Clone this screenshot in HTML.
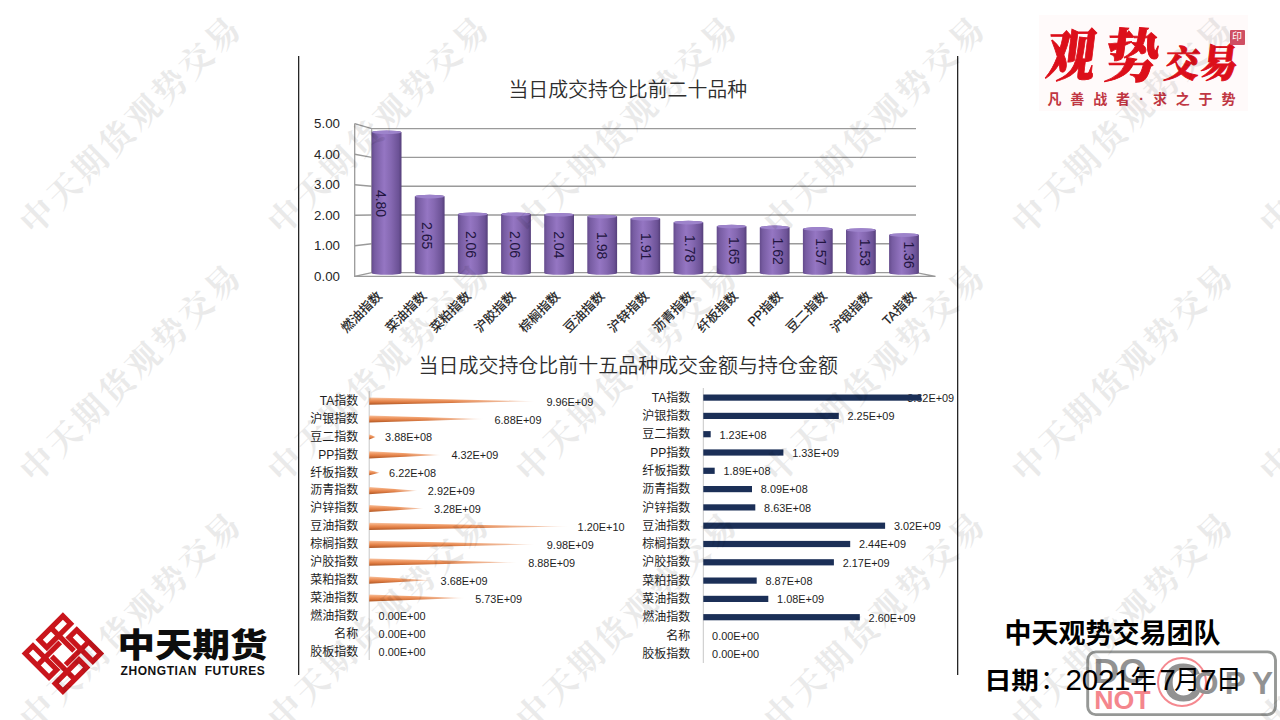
<!DOCTYPE html>
<html lang="zh"><head><meta charset="utf-8"><title>中天期货 观势交易</title>
<style>
html,body{margin:0;padding:0;background:#fff;}
body{width:1280px;height:720px;overflow:hidden;position:relative;font-family:"Liberation Sans","Noto Sans CJK SC",sans-serif;}
#stage{position:absolute;left:0;top:0;width:1280px;height:720px;overflow:hidden;background:#fff;}
.abs{position:absolute;white-space:nowrap;}
svg{position:absolute;left:0;top:0;}
svg text{font-family:"Liberation Sans","Noto Sans CJK SC",sans-serif;}
.wm{position:absolute;width:320px;height:44px;line-height:44px;margin-left:-160px;margin-top:-22px;text-align:center;font-family:"Liberation Serif","Noto Serif CJK SC",serif;font-size:33.5px;letter-spacing:3.5px;color:#000;opacity:.078;transform:rotate(-44.4deg);white-space:nowrap;font-weight:700;}
</style></head><body><div id="stage">

<svg width="1280" height="720" viewBox="0 0 1280 720">
<defs>
<linearGradient id="cyl" x1="0" y1="0" x2="1" y2="0">
<stop offset="0" stop-color="#644b8c"/><stop offset="0.1" stop-color="#775ca2"/><stop offset="0.42" stop-color="#9576c3"/><stop offset="0.65" stop-color="#8568b1"/><stop offset="0.9" stop-color="#6c5296"/><stop offset="1" stop-color="#553f7a"/>
</linearGradient>
<linearGradient id="coneV" x1="0" y1="0" x2="0" y2="1">
<stop offset="0" stop-color="#f7c3a2"/><stop offset="0.3" stop-color="#f19d68"/><stop offset="0.62" stop-color="#e07c42"/><stop offset="1" stop-color="#ad5624"/>
</linearGradient>
<linearGradient id="fade" x1="0" y1="0" x2="1" y2="0">
<stop offset="0" stop-color="#fff" stop-opacity="0"/><stop offset="0.5" stop-color="#fff" stop-opacity="0.04"/><stop offset="0.82" stop-color="#fff" stop-opacity="0.45"/><stop offset="1" stop-color="#fff" stop-opacity="0.92"/>
</linearGradient>
</defs>
<rect x="298" y="56" width="1.3" height="619" fill="#262626"/>
<rect x="957" y="56" width="1.3" height="619" fill="#262626"/>
<path d="M354.7 276.4 L371.7 272.6 L916 272.6" fill="none" stroke="#9a9a9a" stroke-width="1.4"/>
<path d="M354.7 245.8 L371.7 243.8 L916 243.8" fill="none" stroke="#9a9a9a" stroke-width="1.4"/>
<path d="M354.7 215.3 L371.7 215.0 L916 215.0" fill="none" stroke="#9a9a9a" stroke-width="1.4"/>
<path d="M354.7 184.7 L371.7 186.2 L916 186.2" fill="none" stroke="#9a9a9a" stroke-width="1.4"/>
<path d="M354.7 154.2 L371.7 157.4 L916 157.4" fill="none" stroke="#9a9a9a" stroke-width="1.4"/>
<path d="M354.7 123.6 L371.7 128.6 L916 128.6" fill="none" stroke="#9a9a9a" stroke-width="1.4"/>
<path d="M354.7 123.6 V276.4 H935.5 L916 272.6" fill="none" stroke="#9a9a9a" stroke-width="1.3"/>
<path d="M371.7 128.6 V272.6" fill="none" stroke="#9a9a9a" stroke-width="1"/>
<text x="340" y="280.8" font-size="13.3" text-anchor="end" fill="#262626">0.00</text>
<text x="340" y="250.2" font-size="13.3" text-anchor="end" fill="#262626">1.00</text>
<text x="340" y="219.7" font-size="13.3" text-anchor="end" fill="#262626">2.00</text>
<text x="340" y="189.1" font-size="13.3" text-anchor="end" fill="#262626">3.00</text>
<text x="340" y="158.6" font-size="13.3" text-anchor="end" fill="#262626">4.00</text>
<text x="340" y="128.0" font-size="13.3" text-anchor="end" fill="#262626">5.00</text>
<path d="M371.7 132.3 A14.9 1.8 0 0 1 401.5 132.3 V273.0 A14.9 1.8 0 0 1 371.7 273.0 Z" fill="url(#cyl)"/>
<ellipse cx="386.6" cy="132.3" rx="14.6" ry="1.8" fill="#9d83cb"/>
<text transform="translate(375.8 203.5) rotate(90)" font-size="14" text-anchor="middle" fill="#221540">4.80</text>
<text transform="translate(375.9 290.2) rotate(-45)" font-size="12.8" text-anchor="end" fill="#1a1a1a" dy="9.6" stroke="#1a1a1a" stroke-width="0.2">燃油指数</text>
<path d="M414.8 196.6 A14.9 1.8 0 0 1 444.6 196.6 V273.0 A14.9 1.8 0 0 1 414.8 273.0 Z" fill="url(#cyl)"/>
<ellipse cx="429.7" cy="196.6" rx="14.6" ry="1.8" fill="#9d83cb"/>
<text transform="translate(422.0 235.7) rotate(90)" font-size="14" text-anchor="middle" fill="#221540">2.65</text>
<text transform="translate(420.4 290.2) rotate(-45)" font-size="12.8" text-anchor="end" fill="#1a1a1a" dy="9.6" stroke="#1a1a1a" stroke-width="0.2">菜油指数</text>
<path d="M457.9 214.2 A14.9 1.8 0 0 1 487.7 214.2 V273.0 A14.9 1.8 0 0 1 457.9 273.0 Z" fill="url(#cyl)"/>
<ellipse cx="472.8" cy="214.2" rx="14.6" ry="1.8" fill="#9d83cb"/>
<text transform="translate(465.8 244.5) rotate(90)" font-size="14" text-anchor="middle" fill="#221540">2.06</text>
<text transform="translate(464.9 290.2) rotate(-45)" font-size="12.8" text-anchor="end" fill="#1a1a1a" dy="9.6" stroke="#1a1a1a" stroke-width="0.2">菜粕指数</text>
<path d="M501.1 214.2 A14.9 1.8 0 0 1 530.9 214.2 V273.0 A14.9 1.8 0 0 1 501.1 273.0 Z" fill="url(#cyl)"/>
<ellipse cx="516.0" cy="214.2" rx="14.6" ry="1.8" fill="#9d83cb"/>
<text transform="translate(509.7 244.5) rotate(90)" font-size="14" text-anchor="middle" fill="#221540">2.06</text>
<text transform="translate(509.4 290.2) rotate(-45)" font-size="12.8" text-anchor="end" fill="#1a1a1a" dy="9.6" stroke="#1a1a1a" stroke-width="0.2">沪胶指数</text>
<path d="M544.2 214.8 A14.9 1.8 0 0 1 574.0 214.8 V273.0 A14.9 1.8 0 0 1 544.2 273.0 Z" fill="url(#cyl)"/>
<ellipse cx="559.1" cy="214.8" rx="14.6" ry="1.8" fill="#9d83cb"/>
<text transform="translate(553.5 244.8) rotate(90)" font-size="14" text-anchor="middle" fill="#221540">2.04</text>
<text transform="translate(553.9 290.2) rotate(-45)" font-size="12.8" text-anchor="end" fill="#1a1a1a" dy="9.6" stroke="#1a1a1a" stroke-width="0.2">棕榈指数</text>
<path d="M587.3 216.6 A14.9 1.8 0 0 1 617.1 216.6 V273.0 A14.9 1.8 0 0 1 587.3 273.0 Z" fill="url(#cyl)"/>
<ellipse cx="602.2" cy="216.6" rx="14.6" ry="1.8" fill="#9d83cb"/>
<text transform="translate(597.3 245.7) rotate(90)" font-size="14" text-anchor="middle" fill="#221540">1.98</text>
<text transform="translate(598.4 290.2) rotate(-45)" font-size="12.8" text-anchor="end" fill="#1a1a1a" dy="9.6" stroke="#1a1a1a" stroke-width="0.2">豆油指数</text>
<path d="M630.4 218.7 A14.9 1.8 0 0 1 660.2 218.7 V273.0 A14.9 1.8 0 0 1 630.4 273.0 Z" fill="url(#cyl)"/>
<ellipse cx="645.3" cy="218.7" rx="14.6" ry="1.8" fill="#9d83cb"/>
<text transform="translate(641.1 246.7) rotate(90)" font-size="14" text-anchor="middle" fill="#221540">1.91</text>
<text transform="translate(642.9 290.2) rotate(-45)" font-size="12.8" text-anchor="end" fill="#1a1a1a" dy="9.6" stroke="#1a1a1a" stroke-width="0.2">沪锌指数</text>
<path d="M673.5 222.6 A14.9 1.8 0 0 1 703.3 222.6 V273.0 A14.9 1.8 0 0 1 673.5 273.0 Z" fill="url(#cyl)"/>
<ellipse cx="688.4" cy="222.6" rx="14.6" ry="1.8" fill="#9d83cb"/>
<text transform="translate(684.9 248.7) rotate(90)" font-size="14" text-anchor="middle" fill="#221540">1.78</text>
<text transform="translate(687.4 290.2) rotate(-45)" font-size="12.8" text-anchor="end" fill="#1a1a1a" dy="9.6" stroke="#1a1a1a" stroke-width="0.2">沥青指数</text>
<path d="M716.7 226.5 A14.9 1.8 0 0 1 746.5 226.5 V273.0 A14.9 1.8 0 0 1 716.7 273.0 Z" fill="url(#cyl)"/>
<ellipse cx="731.6" cy="226.5" rx="14.6" ry="1.8" fill="#9d83cb"/>
<text transform="translate(728.8 250.6) rotate(90)" font-size="14" text-anchor="middle" fill="#221540">1.65</text>
<text transform="translate(731.9 290.2) rotate(-45)" font-size="12.8" text-anchor="end" fill="#1a1a1a" dy="9.6" stroke="#1a1a1a" stroke-width="0.2">纤板指数</text>
<path d="M759.8 227.4 A14.9 1.8 0 0 1 789.6 227.4 V273.0 A14.9 1.8 0 0 1 759.8 273.0 Z" fill="url(#cyl)"/>
<ellipse cx="774.7" cy="227.4" rx="14.6" ry="1.8" fill="#9d83cb"/>
<text transform="translate(772.6 251.1) rotate(90)" font-size="14" text-anchor="middle" fill="#221540">1.62</text>
<text transform="translate(776.4 290.2) rotate(-45)" font-size="12.8" text-anchor="end" fill="#1a1a1a" dy="9.6" stroke="#1a1a1a" stroke-width="0.2">PP指数</text>
<path d="M802.9 228.9 A14.9 1.8 0 0 1 832.7 228.9 V273.0 A14.9 1.8 0 0 1 802.9 273.0 Z" fill="url(#cyl)"/>
<ellipse cx="817.8" cy="228.9" rx="14.6" ry="1.8" fill="#9d83cb"/>
<text transform="translate(816.4 251.8) rotate(90)" font-size="14" text-anchor="middle" fill="#221540">1.57</text>
<text transform="translate(820.9 290.2) rotate(-45)" font-size="12.8" text-anchor="end" fill="#1a1a1a" dy="9.6" stroke="#1a1a1a" stroke-width="0.2">豆二指数</text>
<path d="M846.0 230.1 A14.9 1.8 0 0 1 875.8 230.1 V273.0 A14.9 1.8 0 0 1 846.0 273.0 Z" fill="url(#cyl)"/>
<ellipse cx="860.9" cy="230.1" rx="14.6" ry="1.8" fill="#9d83cb"/>
<text transform="translate(860.2 252.4) rotate(90)" font-size="14" text-anchor="middle" fill="#221540">1.53</text>
<text transform="translate(865.4 290.2) rotate(-45)" font-size="12.8" text-anchor="end" fill="#1a1a1a" dy="9.6" stroke="#1a1a1a" stroke-width="0.2">沪银指数</text>
<path d="M889.1 235.1 A14.9 1.8 0 0 1 918.9 235.1 V273.0 A14.9 1.8 0 0 1 889.1 273.0 Z" fill="url(#cyl)"/>
<ellipse cx="904.0" cy="235.1" rx="14.6" ry="1.8" fill="#9d83cb"/>
<text transform="translate(904.0 255.0) rotate(90)" font-size="14" text-anchor="middle" fill="#221540">1.36</text>
<text transform="translate(909.9 290.2) rotate(-45)" font-size="12.8" text-anchor="end" fill="#1a1a1a" dy="9.6" stroke="#1a1a1a" stroke-width="0.2">TA指数</text>
<text x="627.8" y="96.8" font-size="19.9" text-anchor="middle" fill="#2e2e2e" font-weight="350">当日成交持仓比前二十品种</text>
<text x="628.2" y="372.6" font-size="19.98" text-anchor="middle" fill="#2e2e2e" font-weight="350">当日成交持仓比前十五品种成交金额与持仓金额</text>
<rect x="368.7" y="391" width="1" height="269" fill="#c8c8c8"/>
<text x="358.3" y="404.9" font-size="12" text-anchor="end" fill="#1e1e1e">TA指数</text>
<path d="M369.2 397.5 L534.5 401.2 L369.2 404.7 Z" fill="url(#coneV)"/>
<rect x="369.2" y="396.6" width="166.3" height="8.2" fill="url(#fade)"/>
<text x="546.4" y="405.6" font-size="10.9" fill="#1e1e1e">9.96E+09</text>
<text x="358.3" y="422.8" font-size="12" text-anchor="end" fill="#1e1e1e">沪银指数</text>
<path d="M369.2 415.4 L483.4 419.1 L369.2 422.6 Z" fill="url(#coneV)"/>
<rect x="369.2" y="414.5" width="115.2" height="8.2" fill="url(#fade)"/>
<text x="494.5" y="423.5" font-size="10.9" fill="#1e1e1e">6.88E+09</text>
<text x="358.3" y="440.7" font-size="12" text-anchor="end" fill="#1e1e1e">豆二指数</text>
<path d="M369.2 434.3 L375.6 437.0 L369.2 439.5 Z" fill="url(#coneV)"/>
<rect x="369.2" y="433.4" width="7.4" height="6.2" fill="url(#fade)"/>
<text x="385.1" y="441.4" font-size="10.9" fill="#1e1e1e">3.88E+08</text>
<text x="358.3" y="458.6" font-size="12" text-anchor="end" fill="#1e1e1e">PP指数</text>
<path d="M369.2 451.2 L440.9 454.9 L369.2 458.4 Z" fill="url(#coneV)"/>
<rect x="369.2" y="450.3" width="72.7" height="8.2" fill="url(#fade)"/>
<text x="451.4" y="459.3" font-size="10.9" fill="#1e1e1e">4.32E+09</text>
<text x="358.3" y="476.5" font-size="12" text-anchor="end" fill="#1e1e1e">纤板指数</text>
<path d="M369.2 470.1 L379.5 472.8 L369.2 475.3 Z" fill="url(#coneV)"/>
<rect x="369.2" y="469.2" width="11.3" height="6.2" fill="url(#fade)"/>
<text x="389.1" y="477.2" font-size="10.9" fill="#1e1e1e">6.22E+08</text>
<text x="358.3" y="494.4" font-size="12" text-anchor="end" fill="#1e1e1e">沥青指数</text>
<path d="M369.2 487.0 L417.7 490.7 L369.2 494.2 Z" fill="url(#coneV)"/>
<rect x="369.2" y="486.1" width="49.5" height="8.2" fill="url(#fade)"/>
<text x="427.8" y="495.1" font-size="10.9" fill="#1e1e1e">2.92E+09</text>
<text x="358.3" y="512.3" font-size="12" text-anchor="end" fill="#1e1e1e">沪锌指数</text>
<path d="M369.2 504.9 L423.6 508.6 L369.2 512.1 Z" fill="url(#coneV)"/>
<rect x="369.2" y="504.0" width="55.4" height="8.2" fill="url(#fade)"/>
<text x="433.9" y="513.0" font-size="10.9" fill="#1e1e1e">3.28E+09</text>
<text x="358.3" y="530.2" font-size="12" text-anchor="end" fill="#1e1e1e">豆油指数</text>
<path d="M369.2 522.8 L568.4 526.5 L369.2 530.0 Z" fill="url(#coneV)"/>
<rect x="369.2" y="521.9" width="200.2" height="8.2" fill="url(#fade)"/>
<text x="577.6" y="530.9" font-size="10.9" fill="#1e1e1e">1.20E+10</text>
<text x="358.3" y="548.1" font-size="12" text-anchor="end" fill="#1e1e1e">棕榈指数</text>
<path d="M369.2 540.7 L534.9 544.4 L369.2 547.9 Z" fill="url(#coneV)"/>
<rect x="369.2" y="539.8" width="166.7" height="8.2" fill="url(#fade)"/>
<text x="546.8" y="548.8" font-size="10.9" fill="#1e1e1e">9.98E+09</text>
<text x="358.3" y="566.0" font-size="12" text-anchor="end" fill="#1e1e1e">沪胶指数</text>
<path d="M369.2 558.6 L516.6 562.3 L369.2 565.8 Z" fill="url(#coneV)"/>
<rect x="369.2" y="557.7" width="148.4" height="8.2" fill="url(#fade)"/>
<text x="528.2" y="566.7" font-size="10.9" fill="#1e1e1e">8.88E+09</text>
<text x="358.3" y="583.9" font-size="12" text-anchor="end" fill="#1e1e1e">菜粕指数</text>
<path d="M369.2 576.5 L430.3 580.2 L369.2 583.7 Z" fill="url(#coneV)"/>
<rect x="369.2" y="575.6" width="62.1" height="8.2" fill="url(#fade)"/>
<text x="440.6" y="584.6" font-size="10.9" fill="#1e1e1e">3.68E+09</text>
<text x="358.3" y="601.8" font-size="12" text-anchor="end" fill="#1e1e1e">菜油指数</text>
<path d="M369.2 594.4 L464.3 598.1 L369.2 601.6 Z" fill="url(#coneV)"/>
<rect x="369.2" y="593.5" width="96.1" height="8.2" fill="url(#fade)"/>
<text x="475.2" y="602.5" font-size="10.9" fill="#1e1e1e">5.73E+09</text>
<text x="358.3" y="619.7" font-size="12" text-anchor="end" fill="#1e1e1e">燃油指数</text>
<text x="378.6" y="620.4" font-size="10.9" fill="#1e1e1e">0.00E+00</text>
<text x="358.3" y="637.6" font-size="12" text-anchor="end" fill="#1e1e1e">名称</text>
<text x="378.6" y="638.3" font-size="10.9" fill="#1e1e1e">0.00E+00</text>
<text x="358.3" y="655.5" font-size="12" text-anchor="end" fill="#1e1e1e">胶板指数</text>
<text x="378.6" y="656.2" font-size="10.9" fill="#1e1e1e">0.00E+00</text>
<rect x="702.8" y="388" width="1" height="275" fill="#c8c8c8"/>
<text x="690.3" y="401.7" font-size="12" text-anchor="end" fill="#1e1e1e">TA指数</text>
<text x="907.2" y="401.9" font-size="10.9" fill="#1e1e1e">3.62E+09</text>
<rect x="703.3" y="394.5" width="217.9" height="6.2" fill="#1b2f57"/>
<text x="690.3" y="420.0" font-size="12" text-anchor="end" fill="#1e1e1e">沪银指数</text>
<text x="847.5" y="420.2" font-size="10.9" fill="#1e1e1e">2.25E+09</text>
<rect x="703.3" y="412.8" width="135.5" height="6.2" fill="#1b2f57"/>
<text x="690.3" y="438.3" font-size="12" text-anchor="end" fill="#1e1e1e">豆二指数</text>
<text x="719.5" y="438.5" font-size="10.9" fill="#1e1e1e">1.23E+08</text>
<rect x="703.3" y="431.1" width="7.4" height="6.2" fill="#1b2f57"/>
<text x="690.3" y="456.6" font-size="12" text-anchor="end" fill="#1e1e1e">PP指数</text>
<text x="792.2" y="456.8" font-size="10.9" fill="#1e1e1e">1.33E+09</text>
<rect x="703.3" y="449.4" width="80.1" height="6.2" fill="#1b2f57"/>
<text x="690.3" y="474.9" font-size="12" text-anchor="end" fill="#1e1e1e">纤板指数</text>
<text x="723.5" y="475.1" font-size="10.9" fill="#1e1e1e">1.89E+08</text>
<rect x="703.3" y="467.7" width="11.4" height="6.2" fill="#1b2f57"/>
<text x="690.3" y="493.2" font-size="12" text-anchor="end" fill="#1e1e1e">沥青指数</text>
<text x="760.8" y="493.4" font-size="10.9" fill="#1e1e1e">8.09E+08</text>
<rect x="703.3" y="486.0" width="48.7" height="6.2" fill="#1b2f57"/>
<text x="690.3" y="511.5" font-size="12" text-anchor="end" fill="#1e1e1e">沪锌指数</text>
<text x="764.1" y="511.7" font-size="10.9" fill="#1e1e1e">8.63E+08</text>
<rect x="703.3" y="504.3" width="52.0" height="6.2" fill="#1b2f57"/>
<text x="690.3" y="529.8" font-size="12" text-anchor="end" fill="#1e1e1e">豆油指数</text>
<text x="893.9" y="530.0" font-size="10.9" fill="#1e1e1e">3.02E+09</text>
<rect x="703.3" y="522.6" width="181.8" height="6.2" fill="#1b2f57"/>
<text x="690.3" y="548.1" font-size="12" text-anchor="end" fill="#1e1e1e">棕榈指数</text>
<text x="859.0" y="548.3" font-size="10.9" fill="#1e1e1e">2.44E+09</text>
<rect x="703.3" y="540.9" width="146.9" height="6.2" fill="#1b2f57"/>
<text x="690.3" y="566.4" font-size="12" text-anchor="end" fill="#1e1e1e">沪胶指数</text>
<text x="842.7" y="566.6" font-size="10.9" fill="#1e1e1e">2.17E+09</text>
<rect x="703.3" y="559.2" width="130.6" height="6.2" fill="#1b2f57"/>
<text x="690.3" y="584.7" font-size="12" text-anchor="end" fill="#1e1e1e">菜粕指数</text>
<text x="765.5" y="584.9" font-size="10.9" fill="#1e1e1e">8.87E+08</text>
<rect x="703.3" y="577.5" width="53.4" height="6.2" fill="#1b2f57"/>
<text x="690.3" y="603.0" font-size="12" text-anchor="end" fill="#1e1e1e">菜油指数</text>
<text x="777.1" y="603.2" font-size="10.9" fill="#1e1e1e">1.08E+09</text>
<rect x="703.3" y="595.8" width="65.0" height="6.2" fill="#1b2f57"/>
<text x="690.3" y="621.3" font-size="12" text-anchor="end" fill="#1e1e1e">燃油指数</text>
<text x="868.6" y="621.5" font-size="10.9" fill="#1e1e1e">2.60E+09</text>
<rect x="703.3" y="614.1" width="156.5" height="6.2" fill="#1b2f57"/>
<text x="690.3" y="639.6" font-size="12" text-anchor="end" fill="#1e1e1e">名称</text>
<text x="712.1" y="639.8" font-size="10.9" fill="#1e1e1e">0.00E+00</text>
<text x="690.3" y="657.9" font-size="12" text-anchor="end" fill="#1e1e1e">胶板指数</text>
<text x="712.1" y="658.1" font-size="10.9" fill="#1e1e1e">0.00E+00</text>
</svg>
<svg width="1280" height="720" viewBox="0 0 1280 720">
<g transform="translate(62.9 653.6) rotate(45)" fill="none" stroke="#c9151c" stroke-width="5.2">
<g transform="rotate(0)"><rect x="-26.6" y="-26.6" width="10.9" height="33.6"/><path d="M-26.6 -9.8 H6"/></g>
<g transform="rotate(90)"><rect x="-26.6" y="-26.6" width="10.9" height="33.6"/><path d="M-26.6 -9.8 H6"/></g>
<g transform="rotate(180)"><rect x="-26.6" y="-26.6" width="10.9" height="33.6"/><path d="M-26.6 -9.8 H6"/></g>
<g transform="rotate(270)"><rect x="-26.6" y="-26.6" width="10.9" height="33.6"/><path d="M-26.6 -9.8 H6"/></g>
</g>
<text transform="translate(117.6 657.4) scale(1.03 0.915)" font-size="36.4" font-weight="900" fill="#0d0d0d">中天期货</text>
<text x="120.5" y="674.9" font-size="12" font-weight="700" fill="#111" textLength="144.3" lengthAdjust="spacing" style="white-space:pre">ZHONGTIAN  FUTURES</text>
</svg>
<div class="abs" style="left:1039px;top:15px;width:209px;height:96px;background:#fffafa;"></div>
<div id="g1" class="abs" style="left:1042.6px;top:24.5px;font-size:57px;line-height:64px;font-family:'Liberation Serif','Noto Serif CJK SC',serif;font-weight:900;color:#dc0f1a;-webkit-text-stroke:0.9px #dc0f1a;transform:skewX(-7deg) scaleX(0.86);transform-origin:0 100%;">观</div>
<div id="g2" class="abs" style="left:1101.3px;top:26px;font-size:58px;line-height:64px;font-family:'Liberation Serif','Noto Serif CJK SC',serif;font-weight:900;color:#dc0f1a;-webkit-text-stroke:0.9px #dc0f1a;transform:skewX(-7deg) scaleX(0.94);transform-origin:0 100%;">势</div>
<div id="g3" class="abs" style="left:1162px;top:42px;font-size:36.5px;line-height:46px;font-family:'Liberation Serif','Noto Serif CJK SC',serif;font-weight:900;color:#dc0f1a;-webkit-text-stroke:0.9px #dc0f1a;transform:skewX(-7deg) scaleX(0.95);transform-origin:0 100%;">交</div>
<div id="g4" class="abs" style="left:1197.5px;top:40.5px;font-size:39px;line-height:46px;font-family:'Liberation Serif','Noto Serif CJK SC',serif;font-weight:900;color:#dc0f1a;-webkit-text-stroke:0.9px #dc0f1a;transform:skewX(-7deg) scaleX(0.96);transform-origin:0 100%;">易</div>
<div class="abs" style="left:1229.6px;top:30.4px;width:15px;height:14.2px;background:#cf4f63;color:#fff;font-size:10px;line-height:14px;border-radius:1px;text-align:center;">印</div>
<div class="abs" style="left:1047.5px;top:90px;font-size:14px;line-height:18px;font-weight:700;letter-spacing:8.85px;color:#c03642;">凡善战者<span style="display:inline-block;width:14px;text-align:center;">·</span>求之于势</div>
<svg width="1280" height="720" viewBox="0 0 1280 720">
<rect x="1087.7" y="651.9" width="187.8" height="62.7" rx="8" ry="8" fill="none" stroke="#969896" stroke-width="2.9"/>
<text x="1093.4" y="683" font-size="35.3" font-weight="700" fill="#929292">DO</text>
<text x="1094.2" y="708.5" font-size="26.5" font-weight="700" fill="#f4868d" textLength="56.5" lengthAdjust="spacingAndGlyphs">NOT</text>
<text x="1162.6" y="701" font-size="54.5" font-weight="700" fill="#929292">C</text>
<circle cx="1182" cy="682.1" r="24" fill="none" stroke="#f58990" stroke-width="2"/>
<text x="1194" y="693.6" font-size="31.5" font-weight="700" fill="#929292" letter-spacing="6.3">OPY</text>
</svg>
<div id="t1" class="abs" style="left:1004.6px;top:613.5px;font-size:27px;line-height:40px;font-weight:700;color:#000;">中天观势交易团队</div>
<div id="t2" class="abs" style="left:0;top:660px;width:1280px;height:40px;font-size:26.5px;line-height:40px;color:#000;"><b class="abs" style="left:983.6px;top:1.2px;font-size:24.2px;letter-spacing:-0.4px;transform:scaleX(1.145);transform-origin:0 50%;">日期</b><span class="abs" style="left:1040px;">：</span><span class="abs" style="left:1065.6px;font-size:29.6px;letter-spacing:-0.3px;">2021</span><span class="abs" style="left:1130.2px;">年</span><span class="abs" style="left:1159.3px;font-size:29.6px;">7</span><span class="abs" style="left:1174px;">月</span><span class="abs" style="left:1200px;font-size:29.6px;">7</span><span class="abs" style="left:1215.4px;">日</span></div>
<div class="wm" style="left:131.6px;top:125px;">中天期货观势交易</div>
<div class="wm" style="left:379.6px;top:125px;">中天期货观势交易</div>
<div class="wm" style="left:627.6px;top:125px;">中天期货观势交易</div>
<div class="wm" style="left:875.6px;top:125px;">中天期货观势交易</div>
<div class="wm" style="left:1123.6px;top:125px;">中天期货观势交易</div>
<div class="wm" style="left:1371.6px;top:125px;">中天期货观势交易</div>
<div class="wm" style="left:131.6px;top:373px;">中天期货观势交易</div>
<div class="wm" style="left:379.6px;top:373px;">中天期货观势交易</div>
<div class="wm" style="left:627.6px;top:373px;">中天期货观势交易</div>
<div class="wm" style="left:875.6px;top:373px;">中天期货观势交易</div>
<div class="wm" style="left:1123.6px;top:373px;">中天期货观势交易</div>
<div class="wm" style="left:1371.6px;top:373px;">中天期货观势交易</div>
<div class="wm" style="left:131.6px;top:621px;">中天期货观势交易</div>
<div class="wm" style="left:379.6px;top:621px;">中天期货观势交易</div>
<div class="wm" style="left:627.6px;top:621px;">中天期货观势交易</div>
<div class="wm" style="left:875.6px;top:621px;">中天期货观势交易</div>
<div class="wm" style="left:1123.6px;top:621px;">中天期货观势交易</div>
<div class="wm" style="left:1371.6px;top:621px;">中天期货观势交易</div>
</div></body></html>
